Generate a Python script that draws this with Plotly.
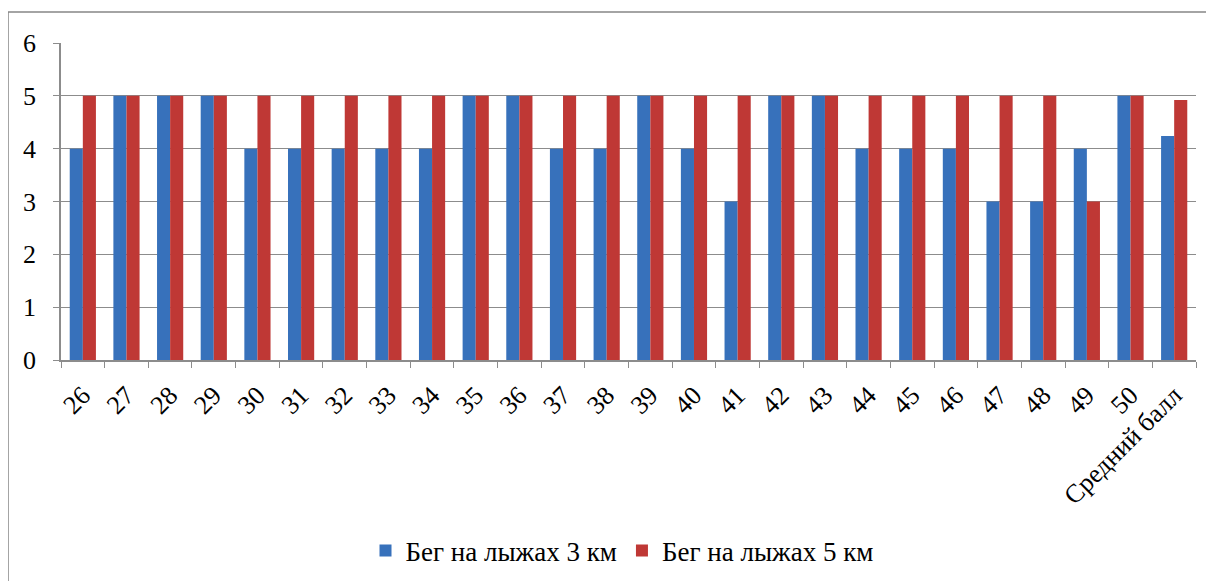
import plotly.graph_objects as go

categories = ["26", "27", "28", "29", "30", "31", "32", "33", "34", "35", "36", "37", "38",
              "39", "40", "41", "42", "43", "44", "45", "46", "47", "48", "49", "50", "Средний балл"]
ski_3km = [4, 5, 5, 5, 4, 4, 4, 4, 4, 5, 5, 4, 4, 5, 4, 3, 5, 5, 4, 4, 4, 3, 3, 4, 5, 4.24]
ski_5km = [5, 5, 5, 5, 5, 5, 5, 5, 5, 5, 5, 5, 5, 5, 5, 5, 5, 5, 5, 5, 5, 5, 5, 3, 5, 4.92]
series_names = ["Бег на лыжах 3 км", "Бег на лыжах 5 км"]
y_ticks = [0, 1, 2, 3, 4, 5, 6]

W, H = 1214, 581
OFF = 8  # page body margin offset
# desired page-pixel plot area: x 61..1196, y 43..360
ml = 61 - OFF
mt = 43 - OFF
mr = W + OFF - 1196
mb = H + OFF - 360
pw, ph = W - ml - mr, H - mt - mb

font = "Liberation Serif, Times New Roman, serif"

fig = go.Figure()
fig.add_trace(go.Bar(x=categories, y=ski_3km, name=series_names[0],
                     marker=dict(color="#3771bb", line=dict(width=0))))
fig.add_trace(go.Bar(x=categories, y=ski_5km, name=series_names[1],
                     marker=dict(color="#bf3835", line=dict(width=0))))

def px_x(p):  # page pixel -> paper
    return (p - OFF - ml) / pw

def px_y(p):
    return (H - mb - (p - OFF)) / ph

fig.add_shape(type="line", xref="paper", yref="paper",
              x0=px_x(8), x1=px_x(8), y0=px_y(12), y1=px_y(H + 20),
              line=dict(color="#868686", width=1.5))
fig.add_shape(type="line", xref="paper", yref="paper",
              x0=px_x(8), x1=px_x(W + 20), y0=px_y(12), y1=px_y(12),
              line=dict(color="#868686", width=1.5))

fig.update_layout(
    width=W, height=H,
    margin=dict(l=ml, r=mr, t=mt, b=mb),
    paper_bgcolor="white", plot_bgcolor="white",
    barmode="group", bargap=0.4, bargroupgap=0,
    font=dict(family=font, size=26, color="black"),
    showlegend=True,
    legend=dict(orientation="h", x=px_x(622), xanchor="center", y=px_y(551), yanchor="middle",
                font=dict(family=font, size=27, color="black"),
                itemwidth=30, traceorder="normal"),
    xaxis=dict(type="category", tickangle=-45, showgrid=False,
               showline=True, linecolor="#8c8c8c", linewidth=1.5,
               ticks="outside", tickson="boundaries", ticklen=6, tickcolor="#8c8c8c",
               ticklabelstandoff=8,
               tickfont=dict(family=font, size=26, color="black")),
    yaxis=dict(range=[0, 6], tickvals=y_ticks, showgrid=True, gridcolor="#8c8c8c", gridwidth=1.2,
               showline=True, linecolor="#8c8c8c", linewidth=1.5, zeroline=False,
               ticks="outside", ticklen=6, tickcolor="#8c8c8c", ticklabelstandoff=12,
               tickfont=dict(family=font, size=26, color="black")),
)

fig.write_html("out.html")
